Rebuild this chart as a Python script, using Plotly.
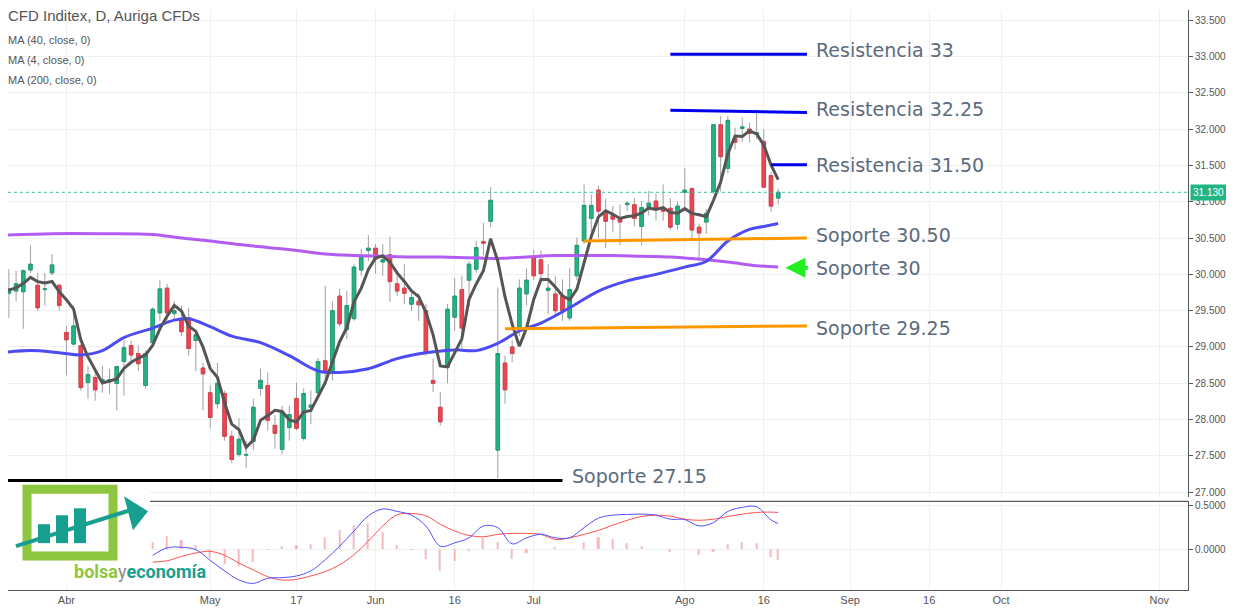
import pandas as pd
import plotly.graph_objects as go
from plotly.subplots import make_subplots

# --- Data ---
opens = [30.16, 29.74, 29.77, 29.76, 30.06, 29.85, 29.79, 30.02, 29.85, 29.20,
         29.04, 29.02, 28.51, 28.58, 28.54, 28.52, 28.50, 28.80, 29.02, 28.91,
         28.47, 29.06, 29.47, 29.81, 29.46, 29.39, 29.40, 29.09, 28.71, 28.37,
         28.22, 28.36, 27.77, 27.52, 27.51, 27.70, 28.43, 28.47, 27.92, 27.59,
         27.89, 28.29, 27.74, 28.17, 28.37, 28.81, 28.66, 29.70, 29.24, 29.39,
         30.06, 30.33, 30.36, 30.17, 30.27, 29.87, 29.81, 29.59, 29.63, 29.50,
         28.54, 28.17, 28.72, 29.41, 29.79, 29.92, 30.07, 30.45, 30.73, 27.58,
         28.78, 29.00, 29.24, 29.73, 30.23, 30.20, 29.78, 29.73, 29.70, 29.40,
         29.98, 30.46, 30.77, 31.16, 30.87, 30.81, 30.76, 30.96, 30.96, 30.66,
         30.92, 31.01, 30.92, 30.91, 30.69, 31.13, 31.18, 30.65, 30.72, 31.14,
         32.06, 31.46, 31.87, 32.01, 32.00, 31.93, 31.83, 31.36, 31.05]
highs = [30.22, 30.07, 30.05, 30.07, 30.40, 30.02, 30.02, 30.28, 29.87, 29.29,
         29.57, 29.04, 28.74, 28.65, 28.74, 28.70, 28.74, 29.09, 29.09, 29.02,
         28.95, 29.55, 29.92, 29.87, 29.63, 29.57, 29.54, 29.22, 28.78, 28.47,
         28.78, 28.40, 27.85, 28.02, 27.71, 28.29, 28.70, 28.65, 28.06, 28.19,
         28.19, 28.51, 28.43, 28.40, 28.85, 29.84, 29.63, 29.80, 29.77, 30.14,
         30.35, 30.54, 30.42, 30.42, 30.52, 30.05, 30.14, 29.77, 29.74, 29.59,
         28.84, 28.38, 29.59, 29.95, 29.98, 30.18, 30.46, 30.71, 31.20, 29.82,
         28.88, 29.09, 29.93, 30.08, 30.34, 30.33, 30.14, 29.98, 29.93, 30.09,
         30.51, 31.24, 31.10, 31.22, 31.04, 30.94, 30.96, 31.01, 31.05, 31.01,
         31.15, 31.11, 31.24, 31.05, 31.01, 31.46, 31.20, 30.70, 30.90, 32.07,
         32.18, 32.18, 32.02, 32.16, 32.09, 32.27, 32.00, 31.41, 31.18]
lows = [28.99, 29.40, 29.63, 29.25, 30.02, 29.50, 29.57, 29.99, 29.50, 28.61,
        29.02, 28.40, 28.29, 28.26, 28.37, 28.35, 28.13, 28.33, 28.81, 28.67,
        28.43, 29.02, 29.36, 29.36, 29.36, 29.15, 28.88, 28.67, 28.13, 27.88,
        28.15, 27.71, 27.40, 27.49, 27.33, 27.58, 28.33, 27.85, 27.60, 27.52,
        27.71, 27.85, 27.71, 27.94, 28.33, 28.54, 28.54, 29.28, 29.11, 29.36,
        29.98, 30.18, 30.01, 29.98, 29.62, 29.70, 29.59, 29.50, 29.36, 28.88,
        28.38, 27.92, 28.50, 29.22, 28.98, 29.56, 30.02, 30.26, 30.65, 27.19,
        28.22, 28.79, 29.15, 29.57, 29.92, 29.92, 29.45, 29.43, 29.36, 29.36,
        29.92, 30.42, 30.52, 30.50, 30.36, 30.58, 30.40, 30.87, 30.66, 30.40,
        30.81, 30.74, 30.74, 30.61, 30.61, 30.87, 30.50, 30.18, 30.56, 31.11,
        31.14, 31.39, 31.72, 31.82, 31.82, 31.86, 31.20, 30.86, 30.96]
closes = [29.80, 29.77, 29.87, 30.05, 30.14, 29.54, 29.80, 30.13, 29.57, 29.10,
          29.29, 28.44, 28.62, 28.41, 28.55, 28.55, 28.73, 28.99, 28.89, 28.77,
          28.91, 29.52, 29.80, 29.47, 29.50, 29.21, 28.98, 29.17, 28.63, 28.03,
          28.50, 27.77, 27.45, 27.73, 27.52, 28.17, 28.54, 27.99, 27.81, 28.11,
          28.07, 27.88, 28.36, 28.20, 28.80, 28.67, 29.50, 29.32, 29.57, 30.10,
          30.24, 30.36, 30.21, 30.20, 29.90, 29.77, 29.74, 29.68, 29.58, 28.91,
          28.50, 27.97, 29.52, 29.70, 29.26, 30.14, 30.37, 30.43, 31.02, 28.91,
          28.41, 28.91, 29.81, 29.92, 29.98, 30.01, 29.81, 29.50, 29.50, 29.79,
          30.40, 30.95, 30.95, 30.87, 30.73, 30.76, 30.72, 30.98, 30.77, 30.92,
          30.98, 30.91, 30.87, 30.65, 30.94, 31.16, 30.61, 30.57, 30.84, 32.06,
          31.62, 32.12, 31.82, 32.03, 31.94, 31.95, 31.20, 30.94, 31.13]

# moving averages that need history outside the chart (bar number, value)
ma40_bars = [1, 5, 9, 12, 15, 18, 22, 25, 27, 30, 33, 37, 41, 45, 48, 52, 56, 60,
             64, 67, 70, 73, 76, 80, 84, 88, 92, 96, 99, 102, 105, 107, 109]
ma40_vals = [28.92, 28.95, 28.92, 28.89, 28.95, 29.13, 29.26, 29.37, 29.39, 29.28,
             29.15, 29.06, 28.88, 28.67, 28.65, 28.70, 28.84, 28.92, 28.96, 28.95,
             29.05, 29.22, 29.33, 29.54, 29.77, 29.91, 30.00, 30.10, 30.18, 30.46,
             30.62, 30.66, 30.70]
ma200_bars = [1, 8, 15, 22, 26, 30, 34, 38, 42, 46, 50, 54, 58, 62, 66, 70, 74,
              78, 82, 86, 90, 94, 98, 102, 106, 109]
ma200_vals = [30.54, 30.56, 30.56, 30.55, 30.50, 30.46, 30.41, 30.37, 30.33, 30.28,
              30.26, 30.25, 30.24, 30.24, 30.23, 30.22, 30.24, 30.26, 30.26, 30.26,
              30.25, 30.24, 30.21, 30.17, 30.12, 30.10]

# MACD panel (bar number, macd, signal)
macd_bars = [22, 24, 26, 28, 30, 32, 34, 36, 38, 40, 42, 44, 46, 48, 50, 52, 54,
             56, 58, 60, 62, 64, 66, 68, 70, 72, 74, 76, 78, 80, 82, 84, 86, 88,
             90, 92, 94, 96, 98, 100, 102, 104, 106, 108, 109]
macd_vals = [-0.071, 0.014, 0.021, -0.006, -0.129, -0.248, -0.352, -0.391, -0.333,
             -0.325, -0.306, -0.248, -0.121, 0.033, 0.206, 0.380, 0.457, 0.430,
             0.387, 0.264, 0.033, 0.071, 0.129, 0.264, 0.245, 0.060, 0.129, 0.168,
             0.129, 0.129, 0.245, 0.353, 0.387, 0.395, 0.399, 0.387, 0.341, 0.337,
             0.264, 0.303, 0.430, 0.476, 0.483, 0.333, 0.291]
signal_vals = [-0.148, -0.133, -0.083, -0.044, -0.025, -0.071, -0.160, -0.237,
               -0.314, -0.352, -0.345, -0.306, -0.256, -0.179, -0.063, 0.091, 0.264,
               0.391, 0.406, 0.380, 0.283, 0.206, 0.156, 0.141, 0.168, 0.179, 0.179,
               0.168, 0.110, 0.129, 0.168, 0.214, 0.272, 0.329, 0.372, 0.387, 0.376,
               0.341, 0.329, 0.341, 0.372, 0.399, 0.418, 0.422, 0.418]

# drawn levels: label, start value, end value, start bar, end bar, colour
level_labels = ["Resistencia 33", "Resistencia 32.25", "Resistencia 31.50",
                "Soporte 30.50", "Soporte 29.25", "Soporte 27.15"]
level_start = [33.03, 32.26, 31.51, 30.46, 29.25, 27.16]
level_end = [33.03, 32.23, 31.51, 30.50, 29.29, 27.16]
level_bar0 = [94, 94, 108, 82, 71, 1]
level_bar1 = [113, 113, 113, 113, 113, 79]
level_colors = ["#0000ee", "#0000ee", "#0000ee", "#ff9800", "#ff9800", "#000000"]
level_text_y = [33.09, 32.28, 31.51, 30.54, 29.26, 27.23]
last_price = 31.13

tick_dates = ["2017-04-03", "2017-05-01", "2017-05-17", "2017-06-01", "2017-06-16",
              "2017-07-03", "2017-08-01", "2017-08-16", "2017-09-01", "2017-09-18",
              "2017-10-02", "2017-11-01"]
tick_text = ["Abr", "May", "17", "Jun", "16", "Jul", "Ago", "16", "Sep", "16", "Oct", "Nov"]

# --- derived ---
dates = pd.bdate_range("2017-03-21", periods=170)
d = dates[:len(closes)]
df = pd.DataFrame({"o": opens, "h": highs, "l": lows, "c": closes}, index=d)
ma4 = df["c"].rolling(4, min_periods=1).mean()
bar_date = lambda b: dates[b - 1]
hist = [m - s for m, s in zip(macd_vals, signal_vals)]

# the page has an 8px body margin; figure sized so plot edges land on the reference pixels
OFF = 8
W, H = 1234 - OFF, 609 - OFF
PW, PH = 1188 - OFF, 590 - OFF
px = lambda x: (x - OFF) / PW
py = lambda y: (PH - (y - OFF)) / PH

fig = make_subplots(rows=2, cols=1, shared_xaxes=True, vertical_spacing=0)

# wicks (grey) then bodies (coloured)
fig.add_trace(go.Candlestick(
    x=d, open=df["o"], high=df["h"], low=df["l"], close=df["c"],
    increasing=dict(line=dict(color="#a0a0a0", width=1), fillcolor="#a0a0a0"),
    decreasing=dict(line=dict(color="#a0a0a0", width=1), fillcolor="#a0a0a0"),
    whiskerwidth=0, showlegend=False, hoverinfo="skip"), row=1, col=1)
body_hi = df[["o", "c"]].max(axis=1)
body_lo = df[["o", "c"]].min(axis=1)
fig.add_trace(go.Candlestick(
    x=d, open=df["o"], high=body_hi, low=body_lo, close=df["c"],
    increasing=dict(line=dict(color="#1e9e74", width=1), fillcolor="#22b584"),
    decreasing=dict(line=dict(color="#d8404c", width=1), fillcolor="#ef4452"),
    showlegend=False), row=1, col=1)

fig.add_trace(go.Scatter(x=[bar_date(b) for b in ma200_bars], y=ma200_vals, mode="lines",
                         line=dict(color="#b35cf2", width=3, shape="spline"), showlegend=False), row=1, col=1)
fig.add_trace(go.Scatter(x=[bar_date(b) for b in ma40_bars], y=ma40_vals, mode="lines",
                         line=dict(color="#4c4cf2", width=3, shape="spline"), showlegend=False), row=1, col=1)
fig.add_trace(go.Scatter(x=d, y=ma4, mode="lines",
                         line=dict(color="#555555", width=3), showlegend=False), row=1, col=1)

# MACD
mdates = [bar_date(b) for b in macd_bars]
fig.add_trace(go.Bar(x=mdates, y=hist, marker_color="rgba(255,110,110,0.55)",
                     width=0.3 * 86400000, showlegend=False), row=2, col=1)
fig.add_trace(go.Scatter(x=mdates, y=signal_vals, mode="lines",
                         line=dict(color="#ff5050", width=1, shape="spline"), showlegend=False), row=2, col=1)
fig.add_trace(go.Scatter(x=mdates, y=macd_vals, mode="lines",
                         line=dict(color="#5050ff", width=1, shape="spline"), showlegend=False), row=2, col=1)

label_font = dict(family="DejaVu Sans", size=19, color="#5b6b7c")

# levels
for lab, v0, v1, b0, b1, col, ty in zip(level_labels, level_start, level_end,
                                       level_bar0, level_bar1, level_colors, level_text_y):
    fig.add_shape(type="line", x0=bar_date(b0), x1=bar_date(b1), y0=v0, y1=v1,
                  xref="x", yref="y", line=dict(color=col, width=3))
    fig.add_annotation(x=bar_date(b1 + 1), y=ty, xref="x", yref="y", text=lab,
                       showarrow=False, xanchor="left", yanchor="middle", font=label_font)

fig.add_annotation(x=bar_date(114), y=30.09, xref="x", yref="y", text="Soporte 30",
                   showarrow=False, xanchor="left", yanchor="middle", font=label_font)
fig.add_annotation(x=bar_date(110), y=30.09, ax=24, ay=0, xref="x", yref="y", text="",
                   showarrow=True, arrowhead=2, arrowsize=1, arrowwidth=4, arrowcolor="#22ee22")

# last price
fig.add_shape(type="line", xref="paper", x0=0, x1=1, yref="y", y0=last_price, y1=last_price,
              line=dict(color="#3cc0a0", width=1, dash="dot"))
fig.add_annotation(xref="paper", x=1.002, y=last_price, yref="y", text="%.3f" % last_price,
                   showarrow=False, xanchor="left", yanchor="middle", bgcolor="#22b584",
                   font=dict(color="white", size=10, family="Arial"), borderpad=2)

# header texts
fig.add_annotation(xref="paper", yref="paper", x=px(6), y=py(14), xanchor="left", yanchor="middle",
                   text="CFD Inditex, D, Auriga CFDs", showarrow=False,
                   font=dict(size=15, color="#555", family="Arial"))
for i, t in enumerate(["MA (40, close, 0)", "MA (4, close, 0)", "MA (200, close, 0)"]):
    fig.add_annotation(xref="paper", yref="paper", x=px(6), y=py(38 + 20 * i), xanchor="left",
                       yanchor="middle", text=t, showarrow=False,
                       font=dict(size=11, color="#555", family="Arial"))

# panel separator and logo
fig.add_shape(type="line", xref="paper", yref="paper", x0=0, x1=1, y0=py(501), y1=py(501),
              line=dict(color="#333", width=1))
fig.add_shape(type="rect", xref="paper", yref="paper", x0=px(0), x1=px(150), y0=py(585), y1=py(484),
              fillcolor="white", line_width=0)
fig.add_shape(type="rect", xref="paper", yref="paper", x0=px(27), x1=px(113), y0=py(556), y1=py(489),
              line=dict(color="#8dc63f", width=9))
for x0, y0 in [(38, 524), (56, 515), (74, 508)]:
    fig.add_shape(type="rect", xref="paper", yref="paper", x0=px(x0), x1=px(x0 + 12),
                  y0=py(543), y1=py(y0), fillcolor="#17a08f", line_width=0)
fig.add_shape(type="line", xref="paper", yref="paper", x0=px(16), y0=py(546), x1=px(130), y1=py(510),
              line=dict(color="#17a08f", width=4))
fig.add_shape(type="path", xref="paper", yref="paper",
              path="M %f %f L %f %f L %f %f Z" % (px(124), py(496), px(148), py(511), px(133), py(530)),
              fillcolor="#17a08f", line_width=0)
fig.add_annotation(xref="paper", yref="paper", x=px(72), y=py(571), showarrow=False, yanchor="middle",
                   text='<b><span style="color:#8cc63e">bolsa</span></b><span style="color:#8a8a8a">y</span>'
                        '<b><span style="color:#17a08f">economía</span></b>',
                   font=dict(size=18, family="Roboto"))

grid = "#f0f0f0"
fig.update_xaxes(type="date", rangebreaks=[dict(bounds=["sat", "mon"])],
                 range=[pd.Timestamp("2017-03-21 21:00"), bar_date(166)],
                 tickvals=tick_dates, ticktext=tick_text, showgrid=True, gridcolor=grid,
                 rangeslider_visible=False, zeroline=False)
fig.update_xaxes(showticklabels=False, row=1, col=1)
fig.update_xaxes(showline=True, linecolor="#555", ticks="", tickfont=dict(size=11, color="#555", family="Arial"),
                 row=2, col=1)
fig.update_yaxes(side="right", showgrid=True, gridcolor=grid, zeroline=False,
                 showline=True, linecolor="#555", ticks="outside", ticklen=4, tickcolor="#555",
                 tickfont=dict(size=10, color="#555", family="Arial"), tickformat=".3f")
fig.update_yaxes(range=[26.93, 33.64], dtick=0.5, tick0=27, domain=[py(497), 1], row=1, col=1)
fig.update_yaxes(range=[-0.466, 0.545], tickvals=[0, 0.5], tickformat=".4f",
                 domain=[0, py(501)], row=2, col=1)

fig.update_layout(width=W, height=H, margin=dict(l=0, r=W - PW, t=0, b=H - PH),
                  plot_bgcolor="white", paper_bgcolor="white", bargap=0, showlegend=False)

fig.write_html("out.html")
